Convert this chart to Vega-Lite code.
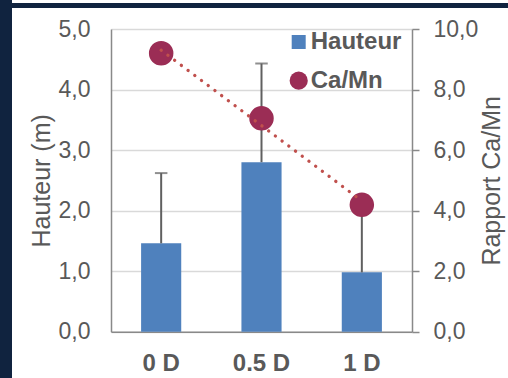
{
  "$schema": "https://vega.github.io/schema/vega-lite/v6.json",
  "padding": 0,
  "background": "white",
  "bounds": "flush",
  "align": "each",
  "spacing": {"row": 0, "column": 0},
  "columns": 3,
  "datasets": {
    "mesures": [
      {"dose": "0 D", "hauteur": 1.46, "hauteur_haut": 2.62, "camn": 9.2},
      {"dose": "0.5 D", "hauteur": 2.8, "hauteur_haut": 4.43, "camn": 7.05},
      {"dose": "1 D", "hauteur": 0.98, "hauteur_haut": 2.1, "camn": 4.19}
    ],
    "tendance": [
      {"dose": "0 D", "tendance": 9.3},
      {"dose": "1 D", "tendance": 4.32}
    ],
    "vide": []
  },
  "concat": [
    {"width": 12, "height": 3, "data": {"name": "vide"}, "mark": "point", "encoding": {}, "view": {"fill": "#10233F", "stroke": null}},
    {"width": 99, "height": 3, "data": {"name": "vide"}, "mark": "point", "encoding": {}, "view": {"stroke": null}},
    {"width": 397, "height": 3, "data": {"name": "vide"}, "mark": "point", "encoding": {}, "view": {"stroke": null}},
    {"width": 12, "height": 26, "data": {"name": "vide"}, "mark": "point", "encoding": {}, "view": {"fill": "#10233F", "stroke": null}},
    {"width": 99, "height": 5, "data": {"name": "vide"}, "mark": "point", "encoding": {}, "view": {"fill": "#10233F", "stroke": null}},
    {"width": 397, "height": 5, "data": {"name": "vide"}, "mark": "point", "encoding": {}, "view": {"fill": "#10233F", "stroke": null}},
    {"width": 12, "height": 349, "data": {"name": "vide"}, "mark": "point", "encoding": {}, "view": {"fill": "#10233F", "stroke": null}},
    {"width": 99, "height": 1, "data": {"name": "vide"}, "mark": "point", "encoding": {}, "view": {"stroke": null}},
    {
      "width": 301,
      "height": 302.7,
      "data": {"name": "mesures"},
      "view": {"stroke": null},
      "layer": [
        {
          "layer": [
            {
              "mark": {"type": "bar"},
              "encoding": {
                "x": {
                  "field": "dose", "type": "nominal", "title": null,
                  "scale": {"domain": ["0 D", "0.5 D", "1 D"], "paddingInner": 0.6, "paddingOuter": 0.3},
                  "axis": {"labelFontWeight": "bold", "labelFontSize": 24, "ticks": false, "tickSize": 0, "labelPadding": 20, "grid": false, "labelAngle": 0, "domain": true}
                },
                "y": {
                  "field": "hauteur", "type": "quantitative", "title": "Hauteur (m)",
                  "scale": {"domain": [0, 5], "nice": false},
                  "axis": {"orient": "left", "values": [0, 1, 2, 3, 4, 5], "labelExpr": "replace(format(datum.value, '.1f'), '.', ',')", "ticks": false, "tickSize": 0, "labelPadding": 21, "grid": true, "titlePadding": 4}
                },
                "color": {
                  "datum": "Hauteur", "type": "nominal",
                  "scale": {"domain": ["Hauteur", "Ca/Mn"], "range": ["#4F81BD", "#9B2D55"]},
                  "legend": {
                    "title": null, "orient": "none", "legendX": 286.7, "legendY": 30, "padding": 0,
                    "labelFontSize": 24, "labelFontWeight": "bold", "labelColor": "#595959", "labelOffset": 0,
                    "rowPadding": 14.7, "symbolSize": 330, "symbolType": "circle", "symbolStrokeWidth": 0, "symbolOpacity": 1,
                    "encode": {"symbols": {"update": {
                      "shape": {"signal": "datum.value === 'Hauteur' ? 'square' : 'circle'"},
                      "size": {"signal": "datum.value === 'Hauteur' ? 196 : 330"}
                    }}}
                  }
                }
              }
            },
            {
              "mark": {"type": "rule", "color": "#606060", "strokeWidth": 2},
              "encoding": {
                "x": {"field": "dose", "type": "nominal", "title": null},
                "y": {"field": "hauteur", "type": "quantitative", "title": "Hauteur (m)"},
                "y2": {"field": "hauteur_haut"}
              }
            },
            {
              "mark": {"type": "tick", "color": "#606060", "thickness": 2, "size": 12.5, "orient": "horizontal"},
              "encoding": {
                "x": {"field": "dose", "type": "nominal", "title": null},
                "y": {"field": "hauteur_haut", "type": "quantitative", "title": "Hauteur (m)"}
              }
            }
          ]
        },
        {
          "layer": [
            {
              "mark": {"type": "point", "filled": true, "opacity": 1, "size": 600},
              "encoding": {
                "x": {"field": "dose", "type": "nominal", "title": null},
                "y": {
                  "field": "camn", "type": "quantitative", "title": "Rapport Ca/Mn",
                  "scale": {"domain": [0, 10], "nice": false},
                  "axis": {"orient": "right", "values": [0, 2, 4, 6, 8, 10], "labelExpr": "replace(format(datum.value, '.1f'), '.', ',')", "grid": false, "ticks": true, "tickSize": 7, "labelPadding": 14, "titleAngle": -90, "titleBaseline": "top", "titlePadding": 2}
                },
                "color": {"datum": "Ca/Mn", "type": "nominal"}
              }
            },
            {
              "data": {"name": "tendance"},
              "mark": {"type": "line", "color": "#C0504D", "strokeWidth": 3.3, "strokeDash": [0.1, 8.3], "strokeCap": "round"},
              "encoding": {
                "x": {"field": "dose", "type": "nominal", "title": null},
                "y": {"field": "tendance", "type": "quantitative", "title": "Rapport Ca/Mn"}
              }
            }
          ]
        }
      ],
      "resolve": {"scale": {"y": "independent"}}
    }
  ],
  "config": {
    "font": "Liberation Sans",
    "view": {"stroke": null},
    "axis": {
      "labelColor": "#595959", "titleColor": "#595959", "labelFontSize": 23, "titleFontSize": 25,
      "titleFontWeight": "normal", "domainColor": "#898989", "domainWidth": 1.5,
      "gridColor": "#D9D9D9", "gridWidth": 1.5, "tickColor": "#898989", "tickWidth": 1.5
    }
  }
}
